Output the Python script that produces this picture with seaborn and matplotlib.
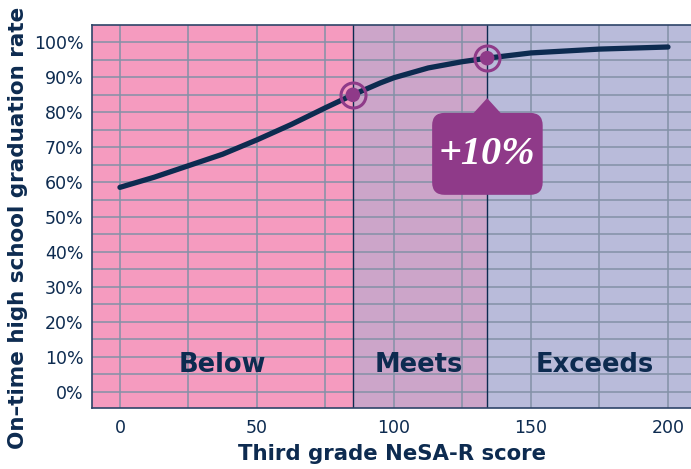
import numpy as np
import pandas as pd
import matplotlib
matplotlib.use("Agg")
import matplotlib.pyplot as plt
import matplotlib.transforms as mtransforms
from matplotlib.patches import FancyBboxPatch, Polygon
import seaborn as sns

# Graduation rate curve by third grade reading score
scores = [0, 12.5, 25, 37.5, 50, 62.5, 75, 85, 95, 100, 112.5, 125, 134, 150, 175, 200]
grad_rate = [58.5, 61.4, 64.7, 68.0, 72.1, 76.5, 81.3, 85.0, 88.4, 89.9, 92.7, 94.5, 95.5, 97.0, 98.1, 98.7]

# Proficiency cut scores and highlighted points
cut_scores = [85, 134]
cut_rates = [85.0, 95.5]
callout_text = "+10%"

# Proficiency bands
band_names = ["Below", "Meets", "Exceeds"]
band_edges = [-10.2, 85, 134, 208.4]
band_colors = ["#F59BBF", "#CCA5C9", "#B9BBDA"]
band_label_x = [37.4, 109, 173.4]
band_label_y = 7.6

x_ticks = [0, 50, 100, 150, 200]
y_ticks = list(range(0, 101, 10))

navy = "#0D2B50"
purple = "#8F3A89"
grid_col = "#8391A7"

sns.set_style("white")
plt.rcParams["font.family"] = ["DejaVu Sans"]

fig = plt.figure(figsize=(6.91, 4.69), dpi=100)
ax = fig.add_axes([92 / 691, 1 - 408 / 469, 1 - 92 / 691, (408 - 25) / 469])

ax.set_xlim(band_edges[0], band_edges[-1])
ax.set_ylim(-4.7, 105.0)

for (lo, hi), col in zip(zip(band_edges[:-1], band_edges[1:]), band_colors):
    ax.axvspan(lo, hi, color=col, zorder=0, lw=0)

# Grid: every 25 points on x, every 5 % on y
for gx in np.arange(0, 201, 25):
    ax.axvline(gx, color=grid_col, lw=1.1, zorder=1)
for gy in np.arange(0, 101, 5):
    ax.axhline(gy, color=grid_col, lw=1.1, zorder=1)

for c in cut_scores:
    ax.axvline(c, color=navy, lw=1.0, zorder=2)

df = pd.DataFrame({"score": scores, "rate": grad_rate})
sns.lineplot(data=df, x="score", y="rate", ax=ax, color=navy, lw=3.8,
             zorder=3, solid_capstyle="round", solid_joinstyle="round")

pts = pd.DataFrame({"score": cut_scores, "rate": cut_rates})
ax.plot(pts["score"], pts["rate"], ls="none", marker="o", ms=18,
        mfc="none", mec=purple, mew=2.2, zorder=4)
sns.scatterplot(data=pts, x="score", y="rate", ax=ax, color=purple, s=110,
                edgecolor="none", zorder=5)

for name, bx in zip(band_names, band_label_x):
    ax.text(bx, band_label_y, name, ha="center", va="center", fontsize=18.5,
            color=navy, fontweight="bold", zorder=6)

# Callout below the upper point, laid out in points around that point
dpi = fig.dpi
anchor = mtransforms.ScaledTranslation(cut_scores[1], cut_rates[1], ax.transData)
tr = mtransforms.Affine2D().scale(dpi / 72.0) + anchor
box = FancyBboxPatch((-39.6, -98.4), 79.6, 59.0,
                     boxstyle="round,pad=0,rounding_size=9",
                     transform=tr, fc=purple, ec="none", zorder=7)
ax.add_patch(box)
tri = Polygon([(-10, -39.8), (0, -28.8), (10, -39.8)], closed=True,
              transform=tr, fc=purple, ec="none", zorder=7)
ax.add_patch(tri)
ax.text(0, -69, callout_text, transform=tr, ha="center", va="center",
        fontsize=29, color="white", fontweight="bold", fontstyle="italic",
        family=["Liberation Serif", "DejaVu Serif"], zorder=8)

ax.set_xticks(x_ticks)
ax.set_xticklabels([str(v) for v in x_ticks])
ax.set_yticks(y_ticks)
ax.set_yticklabels([f"{v}%" for v in y_ticks])
ax.tick_params(axis="y", length=4, width=1, color=navy, labelsize=12.5,
               labelcolor=navy, pad=2)
ax.tick_params(axis="x", length=0, labelsize=12.5, labelcolor=navy, pad=8)

ax.set_xlabel("Third grade NeSA-R score", fontsize=15.3, color=navy,
              fontweight="bold", labelpad=5)
ax.set_ylabel("On\u2013time high school graduation rate", fontsize=15.5,
              color=navy, fontweight="bold")
ax.yaxis.set_label_coords(-0.107, 0.47)

for side in ["left", "bottom", "top"]:
    ax.spines[side].set_visible(True)
    ax.spines[side].set_color("#2E4468")
    ax.spines[side].set_linewidth(1.2)
ax.spines["right"].set_visible(False)

fig.savefig("out.png", dpi=100)
